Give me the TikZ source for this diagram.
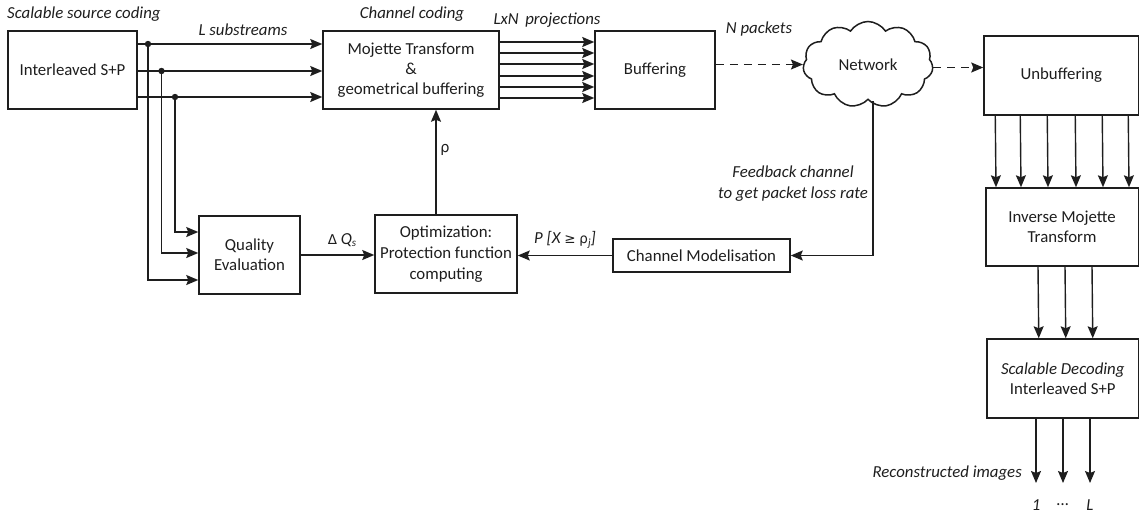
\documentclass[tikz,border=0pt]{standalone}
\usepackage{fontspec}
\setmainfont{Carlito}
\newfontfamily\symf{DejaVu Sans}
\usetikzlibrary{arrows.meta,shapes.symbols,calc}
\definecolor{ink}{HTML}{1E1E1E}
\tikzset{
  blk/.style={draw=ink,line width=1.5pt,inner sep=0pt,align=center,font=\fontsize{16.8}{20}\selectfont,text=ink},
  arr/.style={draw=ink,line width=1.4pt,-{Stealth[length=12pt,width=10pt,inset=2pt]}},
  ln/.style={draw=ink,line width=1.4pt},
  dsh/.style={arr,dash pattern=on 8pt off 6pt},
  lbl/.style={font=\fontsize{16.8}{20.5}\selectfont\itshape,text=ink,inner sep=0pt},
  dot/.style={fill=ink}
}
\begin{document}
\begin{tikzpicture}[x=1pt,y=-1pt]
\useasboundingbox (0,0) rectangle (1139,515);
% boxes
\node[blk,minimum width=129,minimum height=78] (src) at (72.5,70) {Interleaved S+P};
\node[blk,minimum width=176,minimum height=78] (moj) at (411,70) {Mojette Transform\\\&\\geometrical buffering};
\node[blk,minimum width=120,minimum height=78] (buf) at (655,70) {Buffering};
\node[blk,cloud,cloud puffs=11,cloud puff arc=115,cloud ignores aspect,minimum width=130,minimum height=86] (net) at (868,64.5) {Network};
\node[blk,minimum width=154.5,minimum height=79] (unbuf) at (1061.25,75.5) {Unbuffering};
\node[blk,minimum width=152.5,minimum height=78] (inv) at (1062,227) {Inverse Mojette\\Transform};
\node[blk,minimum width=151.5,minimum height=79] (dec) at (1062.75,378.5) {\textit{Scalable Decoding}\\Interleaved S+P};
\node[blk,minimum width=101,minimum height=78] (qual) at (249.5,255) {Quality\\Evaluation};
\node[blk,minimum width=142,minimum height=78,font=\fontsize{16.8}{21}\selectfont] (opt) at (446,254) {Optimization:\\Protection function\\computing};
\node[blk,minimum width=177,minimum height=33] (chan) at (701.5,255.5) {Channel Modelisation};
% branch points
\coordinate (b1) at (148,44);
\coordinate (b2) at (161.5,71);
\coordinate (b3) at (175,97);
% source to mojette
\draw[arr] (src.east |- b1) -- (moj.west |- b1);
\draw[arr] (src.east |- b2) -- (moj.west |- b2);
\draw[arr] (src.east |- b3) -- (moj.west |- b3);
% to quality
\draw[arr] (b1) |- ([yshift=-25pt]qual.west);
\draw[arr] (b2) |- ([yshift=2pt]qual.west);
\draw[arr] (b3) |- ([yshift=23pt]qual.west);
\fill[dot] (b1) circle (3.2pt);
\fill[dot] (b2) circle (3.2pt);
\fill[dot] (b3) circle (3.2pt);
% mojette to buffering
\foreach \s in {28,17,6,-6,-17,-28}
  \draw[arr] ([yshift=\s pt]moj.east) -- ([yshift=\s pt]buf.west);
% buffering to network
\draw[dsh] (buf.east |- net.west) -- (net.west);
\draw[dsh] ([yshift=-3pt]net.east) -- ([yshift=-3pt]net.east -| unbuf.west);
% unbuffering to inverse
\foreach \s in {-66,-41,-14,14,41,67}
  \draw[arr] ([xshift=\s pt]unbuf.south) -- ([xshift=\s pt]inv.north);
\foreach \s in {-24,3,30}
  \draw[arr] ([xshift=\s pt]inv.south) -- ([xshift=\s pt]dec.north);
% outputs
\coordinate (o1) at (1036,483);
\coordinate (o2) at (1063,483);
\coordinate (o3) at (1090,483);
\draw[arr] (dec.south -| o1) -- (o1);
\draw[arr] (dec.south -| o2) -- (o2);
\draw[arr] (dec.south -| o3) -- (o3);
% feedback
\coordinate (fb) at (873,101);
\draw[arr] (fb) |- (chan.east);
\draw[arr] (chan.west) -- (chan.west -| opt.east);
\draw[arr] (qual.east) -- (qual.east -| opt.west);
\draw[arr] ([xshift=-10pt]opt.north) -- ([xshift=-10pt]opt.north |- moj.south);
% labels
\node[lbl,anchor=west] (t1) at (7,14) {Scalable source coding};
\node[lbl] (t2) at (243,30) {L substreams};
\node[lbl] (t3) at (412,14) {Channel coding};
\node[lbl] (t4) at (547,20) {LxN\, projections};
\node[lbl] (t5) at (759,29) {N packets};
\node[lbl,font=\fontsize{16.8}{20}\selectfont,inner sep=0pt] (t6) at (445,150) {\symf\fontsize{14.5}{16}\selectfont ρ};
\node[lbl,font=\fontsize{16.8}{20}\selectfont] (t7) at (342,240) {{\symf\fontsize{13.5}{16}\selectfont Δ} \textit{Q}\raisebox{-2.5pt}{\fontsize{11}{12}\selectfont\textit{s}}};
\node[lbl] (t8) at (565,240) {P [X {\symf\upshape\fontsize{13.5}{16}\selectfont ≥} {\symf\upshape\fontsize{13.5}{16}\selectfont ρ}\raisebox{-3pt}{\fontsize{11}{12}\selectfont j}]};
\node[lbl,align=center] (t9) at (793,183.5) {Feedback channel\\to get packet loss rate};
\node[lbl,anchor=east] (t10) at (1022,473) {Reconstructed images};
\node[lbl] (t11) at (1036,505) {1};
\node[lbl] (t12) at (1063,505) {...};
\node[lbl] (t13) at (1090,505) {L};
\end{tikzpicture}
\end{document}
